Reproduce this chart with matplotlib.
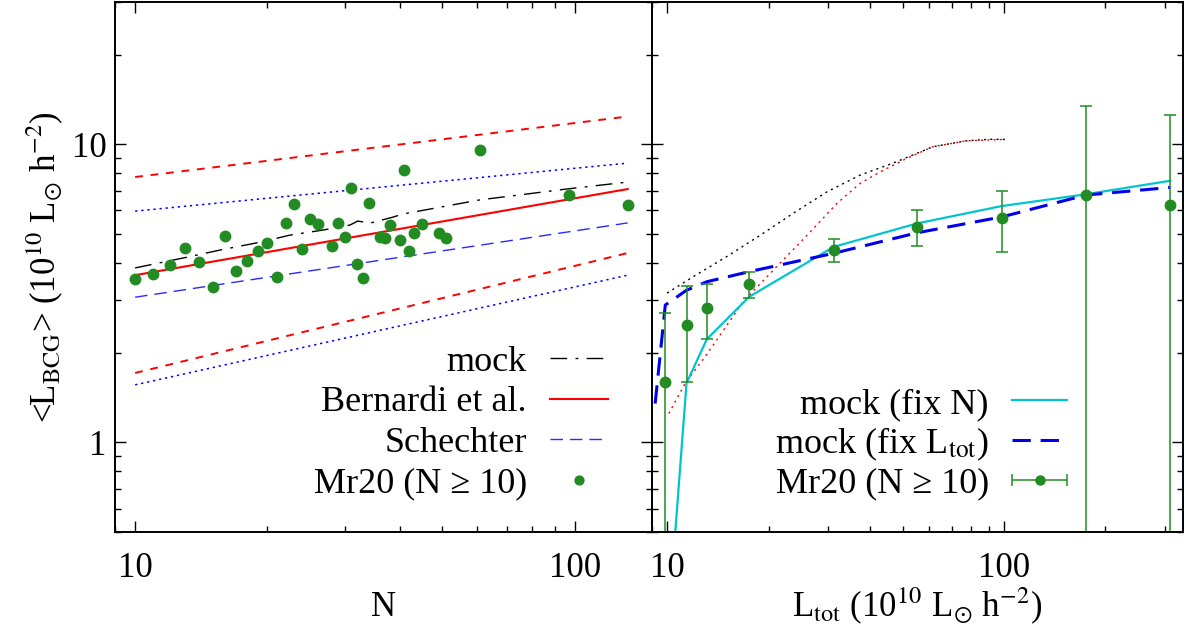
import numpy as np
import matplotlib.pyplot as plt
from matplotlib.ticker import FuncFormatter, NullFormatter
from matplotlib.legend_handler import HandlerErrorbar

plt.rcParams['font.family'] = ['Liberation Serif', 'DejaVu Serif']
plt.rcParams['mathtext.fontset'] = 'stix'
plt.rcParams['font.size'] = 25

GREEN = '#228b22'

# left panel: <L_BCG> against richness N
n_obs = [10, 11, 12, 13, 14, 15, 16, 17, 18, 19, 20, 21, 22, 23, 24, 25, 26,
         28, 29, 30, 31, 32, 33, 34, 36, 37, 38, 40, 41, 42, 43, 45, 49, 51,
         61, 97, 132]
lbcg_obs = [3.54, 3.66, 3.94, 4.48, 4.02, 3.33, 4.91, 3.76, 4.07, 4.38, 4.65,
            3.58, 5.43, 6.29, 4.47, 5.62, 5.40, 4.56, 5.43, 4.87, 7.13, 3.96,
            3.56, 6.38, 4.90, 4.85, 5.35, 4.79, 8.20, 4.38, 5.04, 5.40, 5.04,
            4.84, 9.55, 6.74, 6.27]

n_fit = [10, 132]
bernardi = [3.64, 7.08]
bernardi_hi = [7.77, 12.4]
bernardi_lo = [1.71, 4.32]
schechter = [3.07, 5.45]
schechter_hi = [5.97, 8.65]
schechter_lo = [1.56, 3.64]

n_mock = [10.0, 13.2, 15.6, 19.3, 22.5, 26.8, 30.8, 32.1, 34.2, 38.6, 40.7,
          60.8, 95.7, 131.6]
l_mock = [3.85, 4.19, 4.42, 4.70, 4.96, 5.16, 5.36, 5.53, 5.44, 5.70, 5.84,
          6.51, 7.08, 7.47]

# right panel: <L_BCG> against total luminosity
ltot_obs = [9.86, 11.4, 13.1, 17.5, 31.2, 55.2, 98.6, 175, 312]
lbcg_bin = [1.60, 2.47, 2.82, 3.39, 4.42, 5.29, 5.67, 6.76, 6.27]
lbcg_err = [1.11, 0.87, 0.59, 0.35, 0.38, 0.74, 1.30, 6.74, 6.23]

l_fixn = [0.18, 1.58, 2.22, 3.08, 4.53, 5.43, 6.21, 6.80, 7.55]

ltot_fixl = [9.2, 9.86, 11.4, 13.1, 17.5, 31.2, 55.2, 98.6, 175, 312]
l_fixl = [1.35, 2.89, 3.24, 3.46, 3.74, 4.31, 5.05, 5.71, 6.76, 7.17]

ltot_dot_k = [9.98, 11.9, 15.0, 18.9, 23.7, 29.8, 37.4, 46.8, 61.5, 77.4,
              90.8, 101]
l_dot_k = [3.17, 3.59, 4.20, 4.96, 5.88, 6.93, 7.89, 8.65, 9.82, 10.28,
           10.4, 10.39]
ltot_dot_r = [10.1, 11.3, 13.2, 16.8, 21.6, 26.6, 31.9, 37.4, 42.9, 51.4,
              61.5, 77.4, 101]
l_dot_r = [1.25, 1.58, 2.00, 2.97, 3.99, 5.09, 6.34, 7.40, 8.09, 8.97, 9.82,
           10.28, 10.39]


def style(ax):
    ax.set_xscale('log')
    ax.set_yscale('log')
    ax.tick_params(which='both', direction='in', top=True, right=True,
                   width=1.0, labelsize=25)
    ax.tick_params(which='major', length=8)
    ax.tick_params(which='minor', length=4.5)
    ax.tick_params(axis='x', pad=14)
    ax.tick_params(axis='y', pad=6)
    for s in ax.spines.values():
        s.set_linewidth(1.4)
    fmt = FuncFormatter(lambda v, p: f'{v:g}')
    ax.xaxis.set_major_formatter(fmt)
    ax.yaxis.set_major_formatter(fmt)
    ax.xaxis.set_minor_formatter(NullFormatter())
    ax.yaxis.set_minor_formatter(NullFormatter())


fig = plt.figure(figsize=(11.86, 6.35), dpi=100)
ax1 = fig.add_axes([0.097, 0.162, 0.4528, 0.8346])
ax2 = fig.add_axes([0.5497, 0.162, 0.4477, 0.8346])

# ---- left
ax1.plot(n_fit, bernardi_hi, color='red', lw=1.4, dashes=(4, 4))
ax1.plot(n_fit, bernardi_lo, color='red', lw=1.4, dashes=(4, 4))
ax1.plot(n_fit, schechter_hi, color='blue', lw=1.1, dashes=(1.5, 2.5))
ax1.plot(n_fit, schechter_lo, color='blue', lw=1.1, dashes=(1.5, 2.5))
h_mock, = ax1.plot(n_mock, l_mock, color='black', lw=1.0,
                   dashes=(12, 6, 2, 6), label='mock')
h_bern, = ax1.plot(n_fit, bernardi, color='red', lw=1.5,
                   label='Bernardi et al.')
h_sch, = ax1.plot(n_fit, schechter, color='#2a2aff', lw=1.0,
                  dashes=(9, 5), label='Schechter')
h_obs, = ax1.plot(n_obs, lbcg_obs, 'o', color=GREEN, ms=7.5,
                  label='Mr20 (N ≥ 10)')

style(ax1)
ax1.set_xlim(9, 150)
ax1.set_ylim(0.5, 30)
ax1.set_xlabel('N')
ax1.set_ylabel('<L$_{\\rm BCG}$> (10$^{10}$ L$_{\\odot}$ h$^{-2}$)')
ax1.xaxis.set_label_coords(0.5, -0.112)
ax1.yaxis.set_label_coords(-0.093, 0.5)
ax1.legend(handles=[h_mock, h_bern, h_sch, h_obs], loc='lower right',
           bbox_to_anchor=(0.918, 0.06), frameon=False, markerfirst=False,
           handlelength=1.6, handletextpad=0.65, labelspacing=0.2,
           borderpad=0, borderaxespad=0, numpoints=1, markerscale=0.85,
           fontsize=26)

# ---- right
ax2.plot(ltot_dot_k, l_dot_k, color='black', lw=1.0, dashes=(1.5, 3))
ax2.plot(ltot_dot_r, l_dot_r, color='red', lw=1.0, dashes=(1.5, 3))
h_fixn, = ax2.plot(ltot_obs, l_fixn, color='#00c5cd', lw=1.6,
                   label='mock (fix N)')
h_fixl, = ax2.plot(ltot_fixl, l_fixl, color='#0000ee', lw=2.2,
                   dashes=(6, 3.2), label='mock (fix L$_{\\rm tot}$)')
ax2.errorbar(ltot_obs, lbcg_bin, yerr=lbcg_err, fmt='o', color=GREEN,
             ms=7.5, elinewidth=1.1, capsize=4, capthick=1.1)
proxy = ax2.errorbar([np.nan], [np.nan], xerr=[1.0], fmt='o', color=GREEN,
                     ms=6.5, elinewidth=1.1, capsize=4, capthick=1.1,
                     label='Mr20 (N ≥ 10)')

style(ax2)
ax2.set_xlim(9, 340)
ax2.set_ylim(0.5, 30)
ax2.tick_params(axis='y', which='both', labelleft=False)
ax2.set_xlabel('L$_{\\rm tot}$ (10$^{10}$ L$_{\\odot}$ h$^{-2}$)')
ax2.xaxis.set_label_coords(0.5, -0.1)
ax2.legend(handles=[h_fixn, h_fixl, proxy], loc='lower right',
           bbox_to_anchor=(0.781, 0.06), frameon=False, markerfirst=False,
           handlelength=1.5, handletextpad=0.65, labelspacing=0.12,
           borderpad=0, borderaxespad=0, numpoints=1, fontsize=26,
           handler_map={proxy: HandlerErrorbar(xerr_size=0.75)})

fig.savefig('out.png', dpi=100)
